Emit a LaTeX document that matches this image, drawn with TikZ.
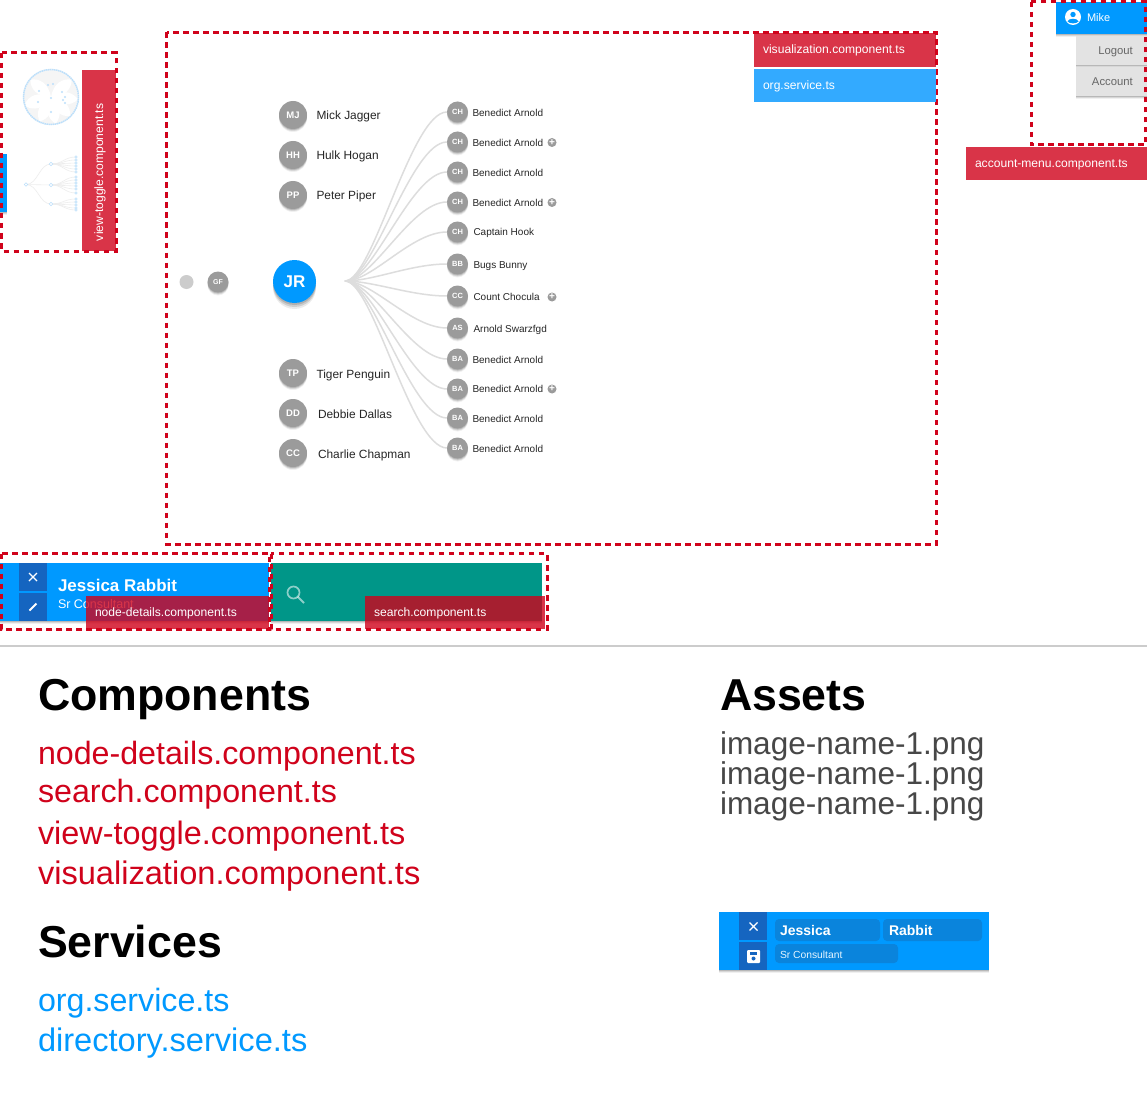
\documentclass[tikz,border=0pt]{standalone}
\usepackage{fontspec}
\setmainfont{Liberation Sans}
\usetikzlibrary{shadows}
\definecolor{brand}{HTML}{0099FF}
\definecolor{navy}{HTML}{1565C0}
\definecolor{alert}{HTML}{D0021B}
\definecolor{skyfill}{HTML}{33AAFF}
\definecolor{teal}{HTML}{009688}
\definecolor{mid}{HTML}{9B9B9B}
\definecolor{link}{HTML}{DDDDDD}
\definecolor{field}{HTML}{0A84DC}
\definecolor{thumb}{HTML}{BBDFFB}
\newcommand\fs[1]{\fontsize{#1}{#1}\selectfont}
\tikzset{
  softsh/.style={drop shadow={shadow xshift=0pt,shadow yshift=-1pt,opacity=.14,fill=black},
                 drop shadow={shadow xshift=0pt,shadow yshift=-2pt,opacity=.10,fill=black},
                 drop shadow={shadow xshift=0pt,shadow yshift=-3pt,opacity=.06,fill=black}},
  txt/.style={anchor=base west,inner sep=0pt,outer sep=0pt},
  flat/.style={inner sep=0pt,outer sep=0pt,draw=none},
  tag/.style={flat,fill=alert,fill opacity=.80,text opacity=1,text=white,font=\fs{12.1},align=left,text height=8pt,text depth=0pt},
  redbox/.style={draw=alert,line width=3pt,dash pattern=on 5.5pt off 4.5pt},
  big/.style={txt,font=\fs{44.7}\bfseries,text=black},
  item/.style={txt,font=\fs{32.2}},
  asset/.style={txt,font=\fs{31.5},text=black!72},
  av/.style={circle,flat,fill=mid,text=white,softsh,minimum size=#1},
  bigav/.style={av=28pt,font=\fs{9.5}\bfseries},
  smallav/.style={av=21pt,font=\fs{7.5}\bfseries},
  nm/.style={txt,font=\fs{11.9},text=black!85},
  sn/.style={txt,font=\fs{10},text=black!85},
  conn/.style={draw=link,line width=1.5pt},
  plusdot/.style={circle,flat,fill=mid,minimum size=9pt,text=white,font=\fs{10}\bfseries},
  iconln/.style={draw=white,line width=1.1pt},
  tdot/.style={circle,flat,draw=thumb,fill=white,line width=.7pt,minimum size=3.5pt},
  leaf/.style={tdot,minimum size=2.5pt},
  tlink/.style={draw=black!7,line width=.6pt},
  btn/.style={flat,fill=navy,minimum width=28pt,minimum height=28pt},
}
\begin{document}
\begin{tikzpicture}[x=1pt,y=-1pt]
\useasboundingbox (0,0) rectangle (1147,1099);
\fill[white] (0,0) rectangle (1147,1099);

% ---------- view toggle thumbnails
\fill[brand,softsh] (0,154) rectangle (7,212);
\fill[black!4] (51,97) circle (28);
\foreach \a in {-160,-115,-80,-45,-5,40,140,195}{
  \fill[white,rotate around={\a:(51,97)}] (51,97) .. controls (62,88) and (72,90) .. (78,97) .. controls (72,104) and (62,106) .. (51,97);
}
\draw[thumb,line width=1.5pt,dash pattern=on 1.5pt off .6pt] (51,97) circle (27.5);
\foreach \px/\py in {48/85,53/84,39/91,62/92,38/102,63/100,65/97,51/98,51/112,65/103}{
  \fill[thumb] (\px,\py) circle (1.2);
}
\coordinate (troot) at (26,184.5);
\coordinate (tc1) at (51,164);
\coordinate (tc2) at (51,185);
\coordinate (tc3) at (51,204);
\foreach \c in {tc1,tc2,tc3}{\draw[tlink] (troot) .. controls +(12,0) and +(-12,0) .. (\c);}
\foreach \y in {157,160,163,166,169,172}{\coordinate (ta\y) at (76,\y);\draw[tlink] (tc1) .. controls +(12,0) and +(-12,0) .. (ta\y);\node[leaf] (tal\y) at (ta\y) {};}
\foreach \y in {177,180,183,186,189,193}{\coordinate (tb\y) at (76,\y);\draw[tlink] (tc2) .. controls +(12,0) and +(-12,0) .. (tb\y);\node[leaf] (tbl\y) at (tb\y) {};}
\foreach \y in {199,202,205,208,210}{\coordinate (td\y) at (76,\y);\draw[tlink] (tc3) .. controls +(12,0) and +(-12,0) .. (td\y);\node[leaf] (tdl\y) at (td\y) {};}
\node[tdot] (trootn) at (troot) {};
\node[tdot] (tc1n) at (tc1) {};
\node[tdot] (tc2n) at (tc2) {};
\node[tdot] (tc3n) at (tc3) {};

% ---------- visualization
\coordinate (hub) at (345,281);
\node[smallav] (c1) at (457.5,112) {CH};
\node[smallav] (c2) at (457.5,142) {CH};
\node[smallav] (c3) at (457.5,172) {CH};
\node[smallav] (c4) at (457.5,202) {CH};
\node[smallav] (c5) at (457.5,232) {CH};
\node[smallav] (c6) at (457.5,264) {BB};
\node[smallav] (c7) at (457.5,296) {CC};
\node[smallav] (c8) at (457.5,328) {AS};
\node[smallav] (c9) at (457.5,359) {BA};
\node[smallav] (c10) at (457.5,389) {BA};
\node[smallav] (c11) at (457.5,418) {BA};
\node[smallav] (c12) at (457.5,448) {BA};
\foreach \i in {1,...,12}{
  \draw[conn] (hub) .. controls +(28,0) and +(-36,0) .. (c\i.west);
}
\node[sn] (l1) at (472.5,116.5) {Benedict Arnold};
\node[sn] (l2) at (472.5,146.5) {Benedict Arnold};
\node[sn] (l3) at (472.5,176.5) {Benedict Arnold};
\node[sn] (l4) at (472.5,206.5) {Benedict Arnold};
\node[sn] (l5) at (473.5,236) {Captain Hook};
\node[sn] (l6) at (473.5,268) {Bugs Bunny};
\node[sn] (l7) at (473.5,300.5) {Count Chocula};
\node[sn] (l8) at (473.5,332) {Arnold Swarzfgd};
\node[sn] (l9) at (472.5,363) {Benedict Arnold};
\node[sn] (l10) at (472.5,392.5) {Benedict Arnold};
\node[sn] (l11) at (472.5,422) {Benedict Arnold};
\node[sn] (l12) at (472.5,452) {Benedict Arnold};
\node[plusdot] (p2) at (552,142.5) {+};
\node[plusdot] (p4) at (552,202.5) {+};
\node[plusdot] (p7) at (552,297) {+};
\node[plusdot] (p10) at (552,389) {+};

\node[bigav] (mj) at (293,115) {MJ};
\node[bigav] (hh) at (293,155) {HH};
\node[bigav] (pp) at (293,195) {PP};
\node[bigav] (tp) at (293,373) {TP};
\node[bigav] (dd) at (293,413) {DD};
\node[bigav] (cc) at (293,453) {CC};
\node[nm] (nmj) at (316.5,120) {Mick Jagger};
\node[nm] (nhh) at (316.5,160) {Hulk Hogan};
\node[nm] (npp) at (316.5,200) {Peter Piper};
\node[nm] (ntp) at (316.5,378) {Tiger Penguin};
\node[nm] (ndd) at (318,418) {Debbie Dallas};
\node[nm] (ncc) at (318,458) {Charlie Chapman};

\node[circle,flat,fill=black!20,minimum size=14pt] (dot) at (186.5,282) {};
\node[smallav,font=\fs{7}\bfseries] (gf) at (218,282) {GF};
\node[circle,flat,fill=brand,minimum size=43pt,text=white,font=\fs{17}\bfseries,
      drop shadow={shadow xshift=0pt,shadow yshift=-2pt,opacity=.14,fill=black},
      drop shadow={shadow xshift=0pt,shadow yshift=-4pt,opacity=.12,fill=black},
      drop shadow={shadow xshift=0pt,shadow yshift=-6pt,opacity=.08,fill=black}] (jr) at (294.5,281.5) {JR};

% ---------- account menu
\node[flat,fill=brand,softsh,minimum width=91pt,minimum height=32pt] (mikebtn) at (1101.5,18) {};
\node[circle,flat,fill=white,minimum size=16pt] (mikeicon) at (1073,17) {};
\fill[brand] (1073,14.5) circle (2.7);
\fill[brand] (1067.5,21.5) .. controls (1068.5,17.8) and (1077.5,17.8) .. (1078.5,21.5) .. controls (1076,24) and (1070,24) .. (1067.5,21.5);
\node[txt,text=white,font=\fs{11}] (mike) at (1087,21.5) {Mike};
\node[flat,fill=black!11,softsh,minimum width=71pt,minimum height=29pt] (logoutbtn) at (1111.5,50.5) {};
\node[flat,fill=black!11,softsh,minimum width=71pt,minimum height=29pt] (accountbtn) at (1111.5,81.5) {};
\node[anchor=base east,inner sep=0pt,text=black!60,font=\fs{11.3}] (logout) at (1133,54.5) {Logout};
\node[anchor=base east,inner sep=0pt,text=black!60,font=\fs{11.3}] (account) at (1133,85.5) {Account};

% ---------- node details bar
\node[flat,fill=brand,softsh,minimum width=269pt,minimum height=58pt] (bar) at (134.5,592) {};
\node[btn] (closebtn) at (33,577) {};
\node[btn] (editbtn) at (33,607) {};
\draw[iconln] (29,573) -- (37,581) (37,573) -- (29,581);
\draw[draw=white,line width=2pt] (29.5,610.5) -- (36.5,603.5);
\node[txt,text=white,font=\fs{17}\bfseries] (jessica) at (58,591) {Jessica Rabbit};
\node[txt,text=white,font=\fs{12.5}] (srcons) at (58,608) {Sr Consultant};

% ---------- search bar
\node[flat,fill=teal,softsh,minimum width=271pt,minimum height=58pt] (searchbar) at (406.5,592) {};
\draw[draw=white,opacity=.55,line width=1.7pt] (293.5,592.5) circle (6);
\draw[draw=white,opacity=.55,line width=1.9pt] (297.8,596.8) -- (304,603);

% ---------- dashed regions
\draw[redbox] (1.5,53) rectangle (116,251);
\draw[redbox] (166.5,32.5) rectangle (936,544);
\draw[redbox] (1031,2) rectangle (1145.5,145);
\draw[redbox] (1.5,553.5) rectangle (269,629);
\draw[redbox] (271,553.5) rectangle (547,629);

% ---------- component tags
\node[tag,minimum width=182pt,minimum height=34pt,text width=164pt] (tagviz) at (845,50) {visualization.component.ts};
\node[tag,fill=skyfill,fill opacity=1,minimum width=182pt,minimum height=33pt,text width=164pt] (tagorg) at (845,85.5) {org.service.ts};
\node[tag,minimum width=181pt,minimum height=33pt,text width=163pt] (tagacc) at (1056.5,163.5) {account-menu.component.ts};
\node[tag,rotate=90,minimum width=181pt,minimum height=34pt,text width=161pt] (tagview) at (99,160.5) {view-toggle.component.ts};
\node[tag,minimum width=183pt,minimum height=33pt,text width=165pt] (tagnode) at (177.5,612.5) {node-details.component.ts};
\node[tag,minimum width=180pt,minimum height=33pt,text width=162pt] (tagsearch) at (455,612.5) {search.component.ts};

% ---------- divider
\draw[draw=black!20,line width=1.6pt] (0,646) -- (1147,646);

% ---------- lists
\node[big] (hcomp) at (38,710) {Components};
\node[item,text=alert] (i1) at (38,764) {node-details.component.ts};
\node[item,text=alert] (i2) at (38,802) {search.component.ts};
\node[item,text=alert,font=\fs{32.4}] (i3) at (38,844) {view-toggle.component.ts};
\node[item,text=alert,font=\fs{32.6}] (i4) at (38,884) {visualization.component.ts};
\node[big] (hserv) at (38,957) {Services};
\node[item,text=brand] (s1) at (38,1011) {org.service.ts};
\node[item,text=brand,font=\fs{32.6}] (s2) at (38,1051) {directory.service.ts};
\node[big] (hass) at (720,710) {Assets};
\node[asset] (a1) at (720,754) {image-name-1.png};
\node[asset] (a2) at (720,784) {image-name-1.png};
\node[asset] (a3) at (720,814) {image-name-1.png};

% ---------- edit card
\node[flat,fill=brand,softsh,minimum width=270pt,minimum height=58pt] (card) at (854,941) {};
\node[btn] (cardclose) at (753,926) {};
\node[btn] (cardsave) at (753,956) {};
\draw[iconln] (749.5,922.5) -- (757.5,930.5) (757.5,922.5) -- (749.5,930.5);
\fill[white,rounded corners=1pt] (747,950) rectangle (760,963);
\fill[navy] (749.5,951.5) rectangle (757,954.5);
\fill[navy] (753.5,958.5) circle (2);
\node[flat,fill=field,rounded corners=4pt,minimum width=105pt,minimum height=22pt] (f1) at (827.5,930) {};
\node[flat,fill=field,rounded corners=4pt,minimum width=99pt,minimum height=22pt] (f2) at (932.5,930) {};
\node[flat,fill=field,rounded corners=4pt,minimum width=123pt,minimum height=19pt] (f3) at (836.5,953.5) {};
\node[txt,text=white,font=\fs{14}\bfseries] (fj) at (780,935) {Jessica};
\node[txt,text=white,font=\fs{14}\bfseries] (fr) at (889,935) {Rabbit};
\node[txt,text=white!90!brand,font=\fs{10.3}] (fs) at (780,958) {Sr Consultant};
\end{tikzpicture}
\end{document}
